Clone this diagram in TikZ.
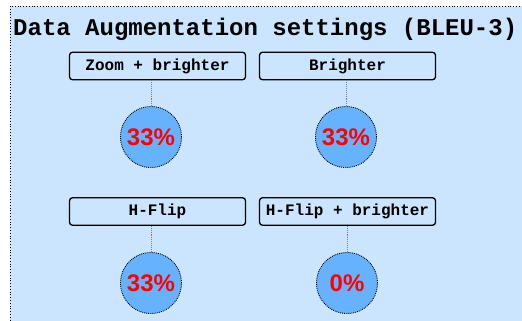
\documentclass[tikz,border=0pt]{standalone}
\usepackage{fontspec}
\setmainfont{Liberation Sans}
\newfontfamily\monobold[BoldFont={Liberation Mono Bold}]{Liberation Mono}
\begin{document}
\begin{tikzpicture}[x=1pt,y=-1pt,
  settingbox/.style={draw=black, line width=1.3pt, rounded corners=3pt,
    fill=panelblue, minimum width=176pt, minimum height=27.5pt,
    inner sep=0pt, font=\monobold\bfseries\fontsize{16}{18}\selectfont},
  share/.style={circle, draw=black, densely dotted, line width=0.9pt,
    fill=shareblue, minimum size=61pt, inner sep=0pt,
    text=red, font=\bfseries\fontsize{24}{26}\selectfont},
  link/.style={draw=gray, densely dotted, line width=0.9pt}]
\definecolor{panelblue}{HTML}{CCE5FF}
\definecolor{shareblue}{HTML}{66B2FF}
\useasboundingbox (0,0) rectangle (522,321);
% panel background (runs past the page on the right and bottom)
\path[fill=panelblue] (10,6) rectangle (540,340);
\draw[black, dotted, line width=0.8pt] (10,340) -- (10,6) -- (540,6);
\node[anchor=base west, inner sep=0pt, font=\monobold\bfseries\fontsize{24}{26}\selectfont]
  (title) at (13,36) {Data Augmentation settings (BLEU-3)};
% settings
\node[settingbox] (zb) at (157.5,66) {Zoom + brighter};
\node[settingbox] (br) at (347.5,66) {Brighter};
\node[settingbox] (hf) at (157.5,211.5) {H-Flip};
\node[settingbox] (hfb) at (347.5,211.5) {H-Flip + brighter};
% shares
\node[share] (zbv) at (151,137) {33\%};
\node[share] (brv) at (346,137) {33\%};
\node[share] (hfv) at (151,283) {33\%};
\node[share] (hfbv) at (347,283) {0\%};
% links
\draw[link] (zbv.north |- zb.south) -- (zbv.north);
\draw[link] (brv.north |- br.south) -- (brv.north);
\draw[link] (hfv.north |- hf.south) -- (hfv.north);
\draw[link] (hfbv.north |- hfb.south) -- (hfbv.north);
\end{tikzpicture}
\end{document}
